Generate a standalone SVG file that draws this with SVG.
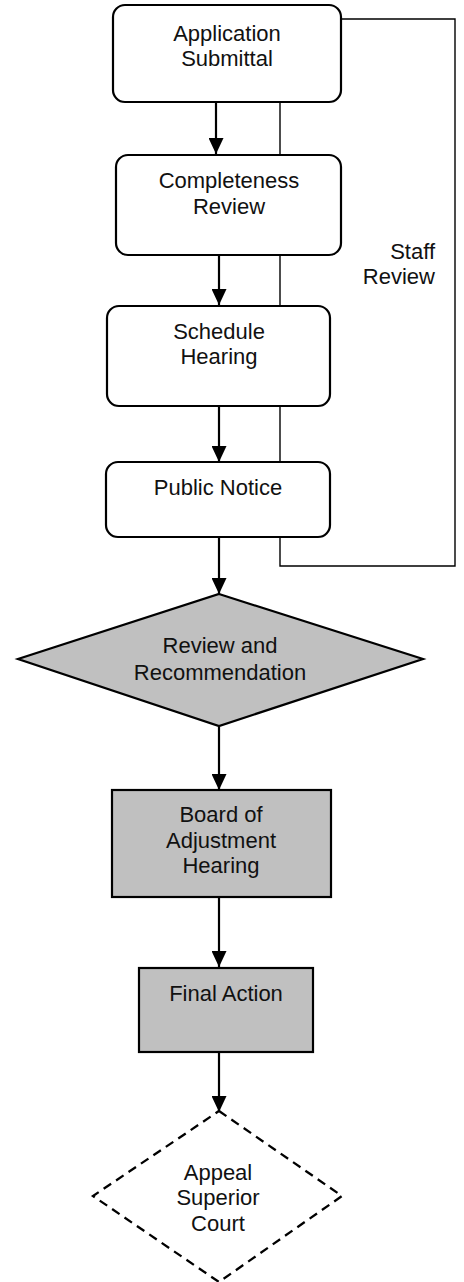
<svg xmlns="http://www.w3.org/2000/svg" width="464" height="1282" viewBox="0 0 464 1282">
<style>
.box{fill:#fff;stroke:#000;stroke-width:2.2}
.gray{fill:#c0c0c0;stroke:#000;stroke-width:2.2}
.dash{fill:#fff;stroke:#000;stroke-width:2.3;stroke-dasharray:9 6}
.t{font-family:"Liberation Sans",Arial,sans-serif;font-size:22px;fill:#111;text-anchor:middle}
.arr{stroke:#000;stroke-width:2.2;fill:none;marker-end:url(#ah)}
.thin{stroke:#000;stroke-width:1.4;fill:none}
</style>
<defs>
<marker id="ah" markerUnits="userSpaceOnUse" markerWidth="16" markerHeight="15" refX="16" refY="7.5" orient="auto">
<path d="M0,0 L16,7.5 L0,15 Z" fill="#000"/>
</marker>
</defs>
<rect width="464" height="1282" fill="#fff"/>
<g id="connectors">
<line class="arr" x1="216" y1="103" x2="216" y2="154"/>
<line class="arr" x1="219" y1="256" x2="219" y2="305"/>
<line class="arr" x1="219" y1="407" x2="219" y2="462"/>
<line class="arr" x1="219" y1="538" x2="219" y2="594"/>
<line class="arr" x1="219" y1="727" x2="219" y2="790"/>
<line class="arr" x1="219" y1="898" x2="219" y2="967"/>
<line class="arr" x1="219" y1="1053" x2="219" y2="1112"/>
<line class="thin" x1="280" y1="102" x2="280" y2="155"/>
<line class="thin" x1="280" y1="255" x2="280" y2="306"/>
<line class="thin" x1="280" y1="406" x2="280" y2="462"/>
<polyline class="thin" points="280,537 280,566 455,566 455,19 341,19"/>
<text class="t" style="text-anchor:end" x="435" y="259">Staff</text>
<text class="t" style="text-anchor:end" x="435" y="284">Review</text>
</g>
<g id="application-submittal">
<rect class="box" x="113" y="5" width="228" height="97" rx="12"/>
<text class="t" x="227" y="41">Application</text>
<text class="t" x="227" y="66">Submittal</text>
</g>
<g id="completeness-review">
<rect class="box" x="116" y="155" width="225" height="100" rx="12"/>
<text class="t" x="229" y="188">Completeness</text>
<text class="t" x="229" y="214">Review</text>
</g>
<g id="schedule-hearing">
<rect class="box" x="107" y="306" width="223" height="100" rx="12"/>
<text class="t" x="219" y="339">Schedule</text>
<text class="t" x="219" y="364">Hearing</text>
</g>
<g id="public-notice">
<rect class="box" x="106" y="462" width="224" height="75" rx="12"/>
<text class="t" x="218" y="495">Public Notice</text>
</g>
<g id="review-recommendation">
<polygon class="gray" points="219,594 423,659 219,726 18,659"/>
<text class="t" x="220" y="653">Review and</text>
<text class="t" x="220" y="680">Recommendation</text>
</g>
<g id="board-hearing">
<rect class="gray" x="112" y="790" width="219" height="107"/>
<text class="t" x="221" y="822">Board of</text>
<text class="t" x="221" y="848">Adjustment</text>
<text class="t" x="221" y="873">Hearing</text>
</g>
<g id="final-action">
<rect class="gray" x="139" y="968" width="174" height="84"/>
<text class="t" x="226" y="1001">Final Action</text>
</g>
<g id="appeal">
<polygon class="dash" points="219,1111 342,1196 219,1282 93,1196"/>
<text class="t" x="218" y="1180">Appeal</text>
<text class="t" x="218" y="1205">Superior</text>
<text class="t" x="218" y="1231">Court</text>
</g>
</svg>
